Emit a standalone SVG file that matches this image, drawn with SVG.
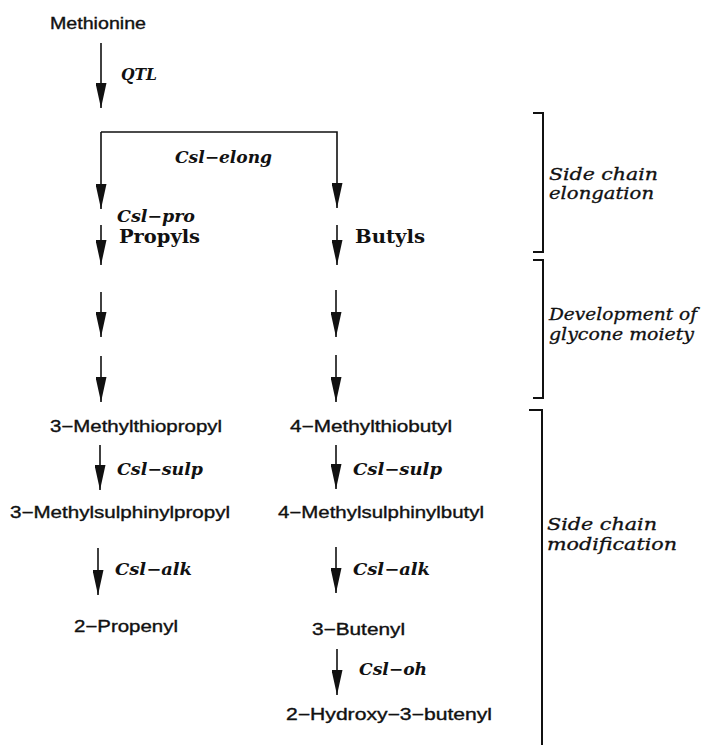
<svg xmlns="http://www.w3.org/2000/svg" width="708" height="745" viewBox="0 0 708 745">
<style>
.n{font-family:"Liberation Sans",Arial,sans-serif;font-size:16px;fill:#111;stroke:#111;stroke-width:0.35;}
.e{font-family:"DejaVu Serif","Liberation Serif",serif;font-style:italic;font-weight:bold;font-size:16px;fill:#111;}
.b{font-family:"DejaVu Serif","Liberation Serif",serif;font-weight:bold;font-size:19px;fill:#111;}
.s{font-family:"DejaVu Serif","Liberation Serif",serif;font-style:italic;font-size:16px;fill:#111;stroke:#111;stroke-width:0.3;}
.c{fill:none;stroke:#111;stroke-width:1.6;}
.k{fill:none;stroke:#111;stroke-width:2;}
</style>
<defs>
<marker id="ah" viewBox="0 0 25 11" markerWidth="25" markerHeight="11" refX="25" refY="5.5" orient="auto" markerUnits="userSpaceOnUse">
<path d="M0,0 L25,5.5 L0,11 Z" fill="#111"/>
</marker>
</defs>
<g id="connectors">
<path class="c" d="M101,43 V108" marker-end="url(#ah)"/>
<path class="c" d="M101,132 V209" marker-end="url(#ah)"/>
<path class="c" d="M101,132 H337 V208" marker-end="url(#ah)"/>
<path class="c" d="M101,225 V265" marker-end="url(#ah)"/>
<path class="c" d="M101,292 V337" marker-end="url(#ah)"/>
<path class="c" d="M101,356 V402" marker-end="url(#ah)"/>
<path class="c" d="M100,445 V490" marker-end="url(#ah)"/>
<path class="c" d="M98,548 V595" marker-end="url(#ah)"/>
<path class="c" d="M337,225 V265" marker-end="url(#ah)"/>
<path class="c" d="M336,290 V337" marker-end="url(#ah)"/>
<path class="c" d="M336,355 V402" marker-end="url(#ah)"/>
<path class="c" d="M336,445 V489" marker-end="url(#ah)"/>
<path class="c" d="M336,547 V593" marker-end="url(#ah)"/>
<path class="c" d="M337,649 V695" marker-end="url(#ah)"/>
</g>
<g id="enzyme-labels">
<text class="e" x="121" y="80" textLength="36" lengthAdjust="spacingAndGlyphs">QTL</text>
<text class="e" x="175" y="163" textLength="97" lengthAdjust="spacingAndGlyphs">Csl−elong</text>
<text class="e" x="117" y="222" textLength="78" lengthAdjust="spacingAndGlyphs">Csl−pro</text>
<text class="e" x="117" y="475" textLength="86" lengthAdjust="spacingAndGlyphs">Csl−sulp</text>
<text class="e" x="115" y="575" textLength="77" lengthAdjust="spacingAndGlyphs">Csl−alk</text>
<text class="e" x="353" y="475" textLength="89" lengthAdjust="spacingAndGlyphs">Csl−sulp</text>
<text class="e" x="353" y="575" textLength="77" lengthAdjust="spacingAndGlyphs">Csl−alk</text>
<text class="e" x="359" y="675" textLength="68" lengthAdjust="spacingAndGlyphs">Csl−oh</text>
</g>
<g id="methionine"><text class="n" x="50" y="29" textLength="96" lengthAdjust="spacingAndGlyphs">Methionine</text></g>
<g id="propyls"><text class="b" x="119" y="243" textLength="81" lengthAdjust="spacingAndGlyphs">Propyls</text></g>
<g id="butyls"><text class="b" x="355" y="243" textLength="70" lengthAdjust="spacingAndGlyphs">Butyls</text></g>
<g id="methylthiopropyl"><text class="n" x="50" y="432" textLength="172" lengthAdjust="spacingAndGlyphs">3−Methylthiopropyl</text></g>
<g id="methylthiobutyl"><text class="n" x="290" y="432" textLength="162" lengthAdjust="spacingAndGlyphs">4−Methylthiobutyl</text></g>
<g id="methylsulphinylpropyl"><text class="n" x="10" y="518" textLength="220" lengthAdjust="spacingAndGlyphs">3−Methylsulphinylpropyl</text></g>
<g id="methylsulphinylbutyl"><text class="n" x="278" y="518" textLength="206" lengthAdjust="spacingAndGlyphs">4−Methylsulphinylbutyl</text></g>
<g id="propenyl"><text class="n" x="74" y="632" textLength="104" lengthAdjust="spacingAndGlyphs">2−Propenyl</text></g>
<g id="butenyl"><text class="n" x="312" y="635" textLength="93" lengthAdjust="spacingAndGlyphs">3−Butenyl</text></g>
<g id="hydroxybutenyl"><text class="n" x="286" y="720" textLength="206" lengthAdjust="spacingAndGlyphs">2−Hydroxy−3−butenyl</text></g>
<g id="bracket-elongation">
<path class="k" d="M533,113 H543 V252 H533"/>
<text class="s" x="549" y="180" textLength="109" lengthAdjust="spacingAndGlyphs">Side chain</text>
<text class="s" x="549" y="199" textLength="105" lengthAdjust="spacingAndGlyphs">elongation</text>
</g>
<g id="bracket-glycone">
<path class="k" d="M533,260 H543 V398 H533"/>
<text class="s" x="549" y="320" textLength="148" lengthAdjust="spacingAndGlyphs">Development of</text>
<text class="s" x="549" y="340" textLength="145" lengthAdjust="spacingAndGlyphs">glycone moiety</text>
</g>
<g id="bracket-modification">
<path class="k" d="M529,410 H542 V745"/>
<text class="s" x="547" y="530" textLength="110" lengthAdjust="spacingAndGlyphs">Side chain</text>
<text class="s" x="547" y="550" textLength="130" lengthAdjust="spacingAndGlyphs">modification</text>
</g>
</svg>
